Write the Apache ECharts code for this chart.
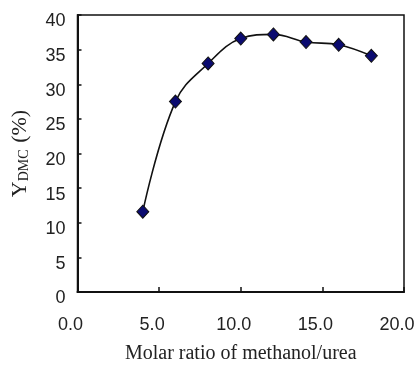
<!DOCTYPE html>
<html><head><meta charset="utf-8">
<script src="https://cdn.jsdelivr.net/npm/echarts@6/dist/echarts.min.js"></script>
<style>html,body{margin:0;padding:0;background:#fff}#c{width:418px;height:369px}</style>
</head><body><div id="c"></div>
<script>
var molarRatio = [4, 6, 8, 10, 12, 14, 16, 18];
var yieldDMC = [11.6, 27.5, 33.0, 36.6, 37.2, 36.1, 35.7, 34.1];
var xTitle = 'Molar ratio of methanol/urea';

var chart = echarts.init(document.getElementById('c'), null, {renderer: 'canvas'});
chart.setOption({
  animation: false,
  grid: {left: 77.5, right: 14, top: 15, bottom: 71, show: true, borderColor: '#111', borderWidth: 1.5, backgroundColor: 'transparent'},
  xAxis: {
    type: 'value', min: 0, max: 20, interval: 5,
    axisLine: {lineStyle: {color: '#111', width: 2}},
    axisTick: {inside: true, length: 5, lineStyle: {color: '#111', width: 1.5}},
    splitLine: {show: false},
    axisLabel: {margin: 24, fontFamily: 'Liberation Sans', fontSize: 18, color: '#222', padding: [0, 14, 0, 0],
      formatter: function (v) { return v.toFixed(1); }},
    name: xTitle, nameLocation: 'middle', nameGap: 52,
    nameTextStyle: {fontFamily: 'Liberation Serif', fontSize: 20, color: '#222'}
  },
  yAxis: {
    type: 'value', min: 0, max: 40, interval: 5,
    axisLine: {lineStyle: {color: '#111', width: 2}},
    axisTick: {inside: true, length: 4, lineStyle: {color: '#111', width: 1.5}},
    splitLine: {show: false},
    axisLabel: {margin: 12, fontFamily: 'Liberation Sans', fontSize: 18, color: '#222', verticalAlign: 'top', lineHeight: 13},
    name: '{m|Y}{s|DMC}{m| (%)}', nameLocation: 'middle', nameRotate: 90, nameGap: 46,
    nameTextStyle: {
      fontFamily: 'Liberation Serif', color: '#222',
      rich: {
        m: {fontFamily: 'Liberation Serif', fontSize: 22, color: '#222', lineHeight: 26, verticalAlign: 'bottom'},
        s: {fontFamily: 'Liberation Serif', fontSize: 14, color: '#222', lineHeight: 26, verticalAlign: 'bottom', padding: [6, 1, 0, 0]}
      }
    }
  },
  series: [{
    type: 'line',
    data: molarRatio.map(function (x, i) { return [x, yieldDMC[i]]; }),
    smooth: 0.4,
    symbol: 'diamond', symbolSize: [12, 13],
    lineStyle: {color: '#111', width: 1.6},
    itemStyle: {color: '#0b0b70', borderColor: '#111', borderWidth: 1}
  }]
});
</script></body></html>
